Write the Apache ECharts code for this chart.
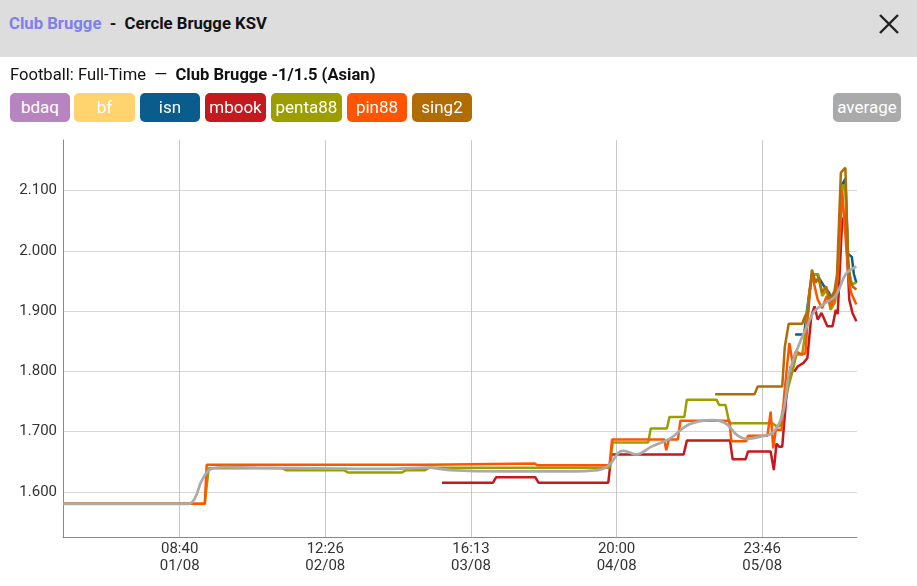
<!DOCTYPE html>
<html>
<head>
<meta charset="utf-8">
<script src="https://cdn.jsdelivr.net/npm/echarts@6/dist/echarts.min.js"></script>
<style>
  html, body { margin:0; padding:0; width:917px; height:586px; overflow:hidden; background:#fff; font-family: Roboto, "Noto Sans", sans-serif; }
  #chart { position:absolute; left:0; top:0; width:917px; height:586px; }
  #header { position:absolute; left:0; top:0; width:917px; height:57px; background:#dddddd; z-index:2; }
  #title { position:absolute; left:9px; top:14px; font-size:16.7px; font-weight:bold; color:#111; white-space:nowrap; }
  #title .home { color:#7f7fee; }
  #close { position:absolute; left:877px; top:12px; width:24px; height:24px; }
  #sub { position:absolute; left:10px; top:65px; font-size:16.6px; color:#111; z-index:2; white-space:nowrap; }
  #sub b { font-weight:bold; }
  .btn { position:absolute; top:93px; height:29px; line-height:29px; border-radius:5px; color:#fff; font-size:17px; text-align:center; z-index:2; }
</style>
</head>
<body>
<div id="chart"></div>
<div id="header">
  <div id="title"><span class="home">Club Brugge</span>&nbsp; - &nbsp;Cercle Brugge KSV</div>
  <svg id="close" viewBox="0 0 24 24"><path d="M3 3 L21 21 M21 3 L3 21" stroke="#222" stroke-width="2.4" fill="none"/></svg>
</div>
<div id="sub">Football: Full-Time &nbsp;—&nbsp; <b>Club Brugge -1/1.5 (Asian)</b></div>
<div id="legend"></div>
<script>
// ---- data ----
const bookNames = ['bdaq','bf','isn','mbook','penta88','pin88','sing2','average'];
const bookColors = ['#b784c1','#ffd36e','#0a5c8c','#c5191d','#9c9e00','#ff5500','#b26c06','#aaaaaa'];
const legendLeft = [10,74,140,205,271,347,412,833];
const legendWidth = [60,61,60,61,71,60,60,68];

const tickPositions = [181,407,633,859,1085];
const tickTimes = ['08:40','12:26','16:13','20:00','23:46'];
const tickDates = ['01/08','02/08','03/08','04/08','05/08'];
const yTicks = [1.6,1.7,1.8,1.9,2.0,2.1];

const bdaq = [];
const bf = [];
const isn = [[1136,1.861],[1150,1.861],[1153,1.889],[1158,1.930],[1162,1.961],[1170,1.961],[1173,1.955],[1181,1.941],[1189,1.930],[1192,1.916],[1198,1.930],[1202,1.960],[1209,2.110],[1214,2.120],[1218,1.995],[1224,1.990],[1227,1.962],[1231,1.947]];
const mbook = [[588,1.615],[667,1.615],[672,1.624],[733,1.624],[738,1.615],[846,1.615],[851,1.662],[963,1.662],[968,1.685],[1035,1.685],[1039,1.654],[1059,1.654],[1063,1.667],[1098,1.667],[1103,1.636],[1107,1.680],[1111,1.675],[1116,1.675],[1122,1.753],[1129,1.808],[1135,1.800],[1140,1.808],[1149,1.814],[1155,1.822],[1161,1.891],[1166,1.908],[1171,1.886],[1177,1.897],[1186,1.875],[1194,1.875],[1199,1.902],[1202,1.895],[1209,2.050],[1214,2.060],[1220,1.919],[1225,1.897],[1231,1.883]];
const penta88 = [[0,1.580],[220,1.580],[226,1.639],[341,1.639],[346,1.636],[436,1.636],[442,1.632],[526,1.632],[532,1.636],[562,1.636],[568,1.640],[848,1.640],[853,1.682],[908,1.682],[912,1.705],[937,1.705],[941,1.724],[964,1.724],[968,1.753],[1014,1.753],[1018,1.744],[1028,1.744],[1034,1.714],[1100,1.714],[1107,1.709],[1112,1.709],[1120,1.753],[1132,1.800],[1138,1.828],[1147,1.828],[1152,1.866],[1158,1.930],[1163,1.961],[1172,1.961],[1178,1.925],[1185,1.935],[1191,1.902],[1198,1.915],[1202,1.960],[1209,2.110],[1214,2.100],[1219,1.970],[1224,1.945],[1231,1.947]];
const pin88 = [[0,1.580],[220,1.580],[223,1.645],[566,1.645],[569,1.647],[732,1.647],[736,1.644],[848,1.644],[852,1.687],[933,1.687],[936,1.669],[940,1.687],[954,1.687],[958,1.718],[1034,1.718],[1037,1.684],[1060,1.684],[1063,1.693],[1093,1.693],[1098,1.733],[1102,1.672],[1106,1.703],[1115,1.703],[1119,1.760],[1127,1.847],[1132,1.814],[1137,1.833],[1146,1.828],[1152,1.830],[1158,1.930],[1162,1.961],[1171,1.919],[1178,1.905],[1185,1.925],[1192,1.908],[1199,1.930],[1202,1.958],[1209,2.100],[1219,1.952],[1223,1.930],[1231,1.911]];
const sing2 = [[1012,1.762],[1073,1.762],[1078,1.775],[1116,1.775],[1120,1.841],[1126,1.879],[1147,1.879],[1152,1.893],[1156,1.895],[1162,1.969],[1168,1.947],[1172,1.956],[1178,1.931],[1184,1.941],[1190,1.919],[1197,1.933],[1201,1.961],[1207,2.130],[1214,2.138],[1218,1.986],[1222,1.947],[1226,1.940],[1231,1.936]];
const average = [[0,1.580],[195,1.580],[205,1.590],[215,1.618],[228,1.637],[250,1.641],[300,1.640],[400,1.639],[500,1.638],[566,1.640],[600,1.636],[680,1.634],[780,1.634],[830,1.636],[848,1.645],[862,1.665],[870,1.668],[890,1.662],[913,1.675],[941,1.688],[972,1.712],[1008,1.719],[1029,1.713],[1045,1.695],[1060,1.688],[1083,1.692],[1101,1.698],[1117,1.730],[1127,1.798],[1143,1.847],[1155,1.876],[1166,1.900],[1181,1.912],[1199,1.926],[1215,1.962],[1231,1.974]];

const seriesData = [bdaq, bf, isn, mbook, penta88, pin88, sing2, average];

// ---- legend buttons (HTML) ----
const lg = document.getElementById('legend');
bookNames.forEach((n,i) => {
  const d = document.createElement('div');
  d.className = 'btn';
  d.textContent = n;
  d.style.left = legendLeft[i] + 'px';
  d.style.width = legendWidth[i] + 'px';
  d.style.background = bookColors[i];
  lg.appendChild(d);
});

// ---- chart ----
const chart = echarts.init(document.getElementById('chart'), null, {renderer:'canvas'});
const option = {
  animation: false,
  grid: { left: 63, top: 140, right: 60, bottom: 49, containLabel: false },
  xAxis: {
    type: 'value', min: 0, max: 1232,
    axisLine: { show: true, lineStyle: { color: '#888', width: 1 } },
    axisTick: { show: false, customValues: tickPositions },
    axisLabel: {
      customValues: tickPositions,
      color: '#333', fontSize: 15, fontFamily: 'Roboto', lineHeight: 17, margin: 4,
      formatter: function (v) {
        const i = tickPositions.indexOf(v);
        return i >= 0 ? tickTimes[i] + '\n' + tickDates[i] : '';
      }
    },
    splitLine: { show: true, lineStyle: { color: '#c8c8c8', width: 1 } }
  },
  yAxis: {
    type: 'value', min: 1.525, max: 2.184,
    axisLine: { show: true, lineStyle: { color: '#888', width: 1 } },
    axisTick: { show: false, customValues: yTicks },
    axisLabel: {
      customValues: yTicks,
      color: '#333', fontSize: 15, fontFamily: 'Roboto', margin: 6,
      formatter: function (v) { return v.toFixed(3); }
    },
    splitLine: { show: true, lineStyle: { color: '#d6d6d6', width: 1 } }
  },
  series: bookNames.map((n, i) => ({
    name: n,
    type: 'line',
    data: seriesData[i],
    showSymbol: false,
    symbol: 'none',
    smooth: n === 'average' ? 0.35 : false,
    lineStyle: { color: bookColors[i], width: n === 'average' ? 2.7 : 2.5 },
    itemStyle: { color: bookColors[i] },
    z: 2 + i
  }))
};
chart.setOption(option);
</script>
</body>
</html>
